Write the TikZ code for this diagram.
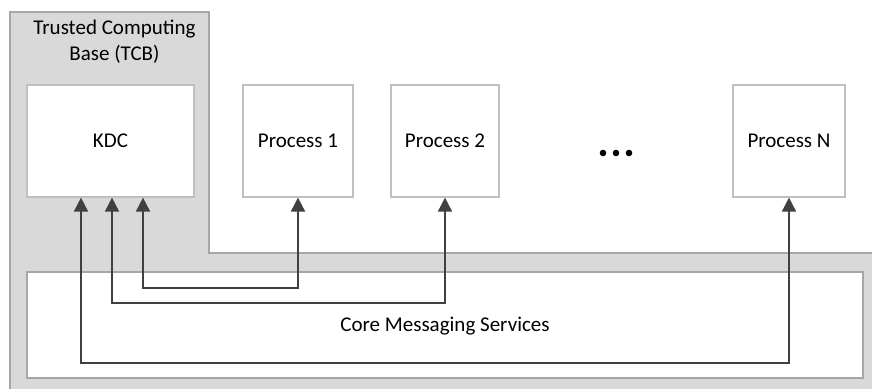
\documentclass[tikz,border=0pt]{standalone}
\usepackage{fontspec}
\setmainfont{Carlito}
\usetikzlibrary{arrows.meta}
\definecolor{zonefill}{HTML}{D9D9D9}
\definecolor{zoneline}{HTML}{A6A6A6}
\definecolor{boxline}{HTML}{BFBFBF}
\definecolor{wire}{HTML}{404040}
\tikzset{
  lbl/.style={font=\fontsize{21}{26}\selectfont, text=black},
  procbox/.style={draw=boxline, fill=white, line width=1.2pt, minimum height=112pt,
    inner sep=0pt, lbl},
  conn/.style={draw=wire, line width=1.8pt,
    {Triangle[width=14pt,length=14pt]}-{Triangle[width=14pt,length=14pt]}},
}
\begin{document}
\begin{tikzpicture}[x=1pt, y=-1pt]
\useasboundingbox (0,0) rectangle (872,388);
\clip (0,0) rectangle (872,388);
\fill[white] (0,0) rectangle (872,388);

% trusted computing base: L-shaped zone running off the right and bottom edges
\draw[fill=zonefill, draw=zoneline, line width=1.2pt]
  (10,400) -- (10,12) -- (209,12) -- (209,253) -- (890,253) -- (890,400) -- cycle;
\node[lbl, align=center] (tcbtitle) at (114.5,42) {Trusted Computing\\Base (TCB)};

% messaging layer
\node[draw=zoneline, fill=white, line width=1.2pt, minimum width=836pt, minimum height=106pt,
  inner sep=0pt, lbl] (core) at (445,325) {};
\node[lbl] (coretext) at (445,326) {Core Messaging Services};

% components
\node[procbox, minimum width=167pt] (kdc) at (110.5,141) {KDC};
\node[procbox, minimum width=110pt] (p1) at (298,141) {Process 1};
\node[procbox, minimum width=108pt] (p2) at (445,141) {Process 2};
\node[procbox, minimum width=112pt] (pn) at (789,141) {Process N};

% ellipsis between Process 2 and Process N
\foreach \i/\xx in {a/603,b/616,c/629}
  \fill[black] (\xx,153) circle (3.3pt) coordinate (dot\i);

% channels from the KDC to each process
\coordinate (k3) at (143,288);
\coordinate (k2) at (112,303);
\coordinate (k1) at (81,363);
\draw[conn] (kdc.south -| k3) -- (k3) -| (p1.south);
\draw[conn] (kdc.south -| k2) -- (k2) -| (p2.south);
\draw[conn] (kdc.south -| k1) -- (k1) -| (pn.south);
\end{tikzpicture}
\end{document}
